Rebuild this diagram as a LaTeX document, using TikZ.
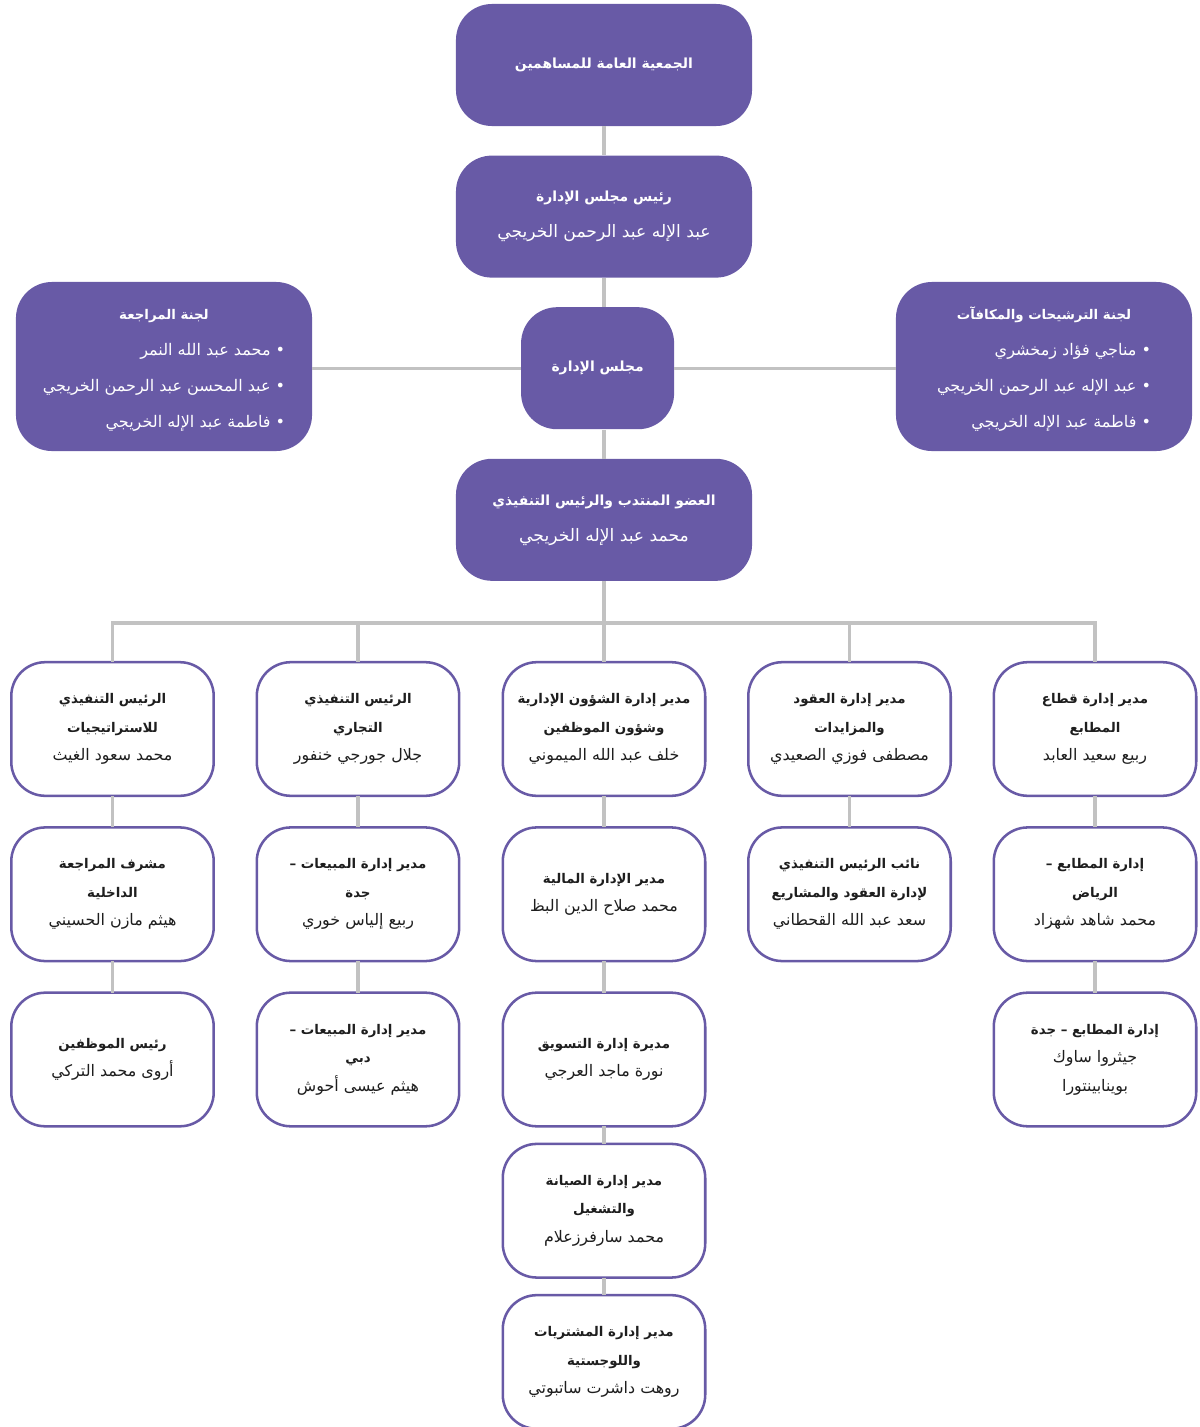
\documentclass[tikz,border=0pt]{standalone}
\usepackage{fontspec}
\newfontfamily\arabicfont[Script=Arabic]{DejaVu Sans}
\TeXXeTstate=1
\usetikzlibrary{positioning}
\definecolor{boardpurple}{HTML}{685AA6}
\definecolor{linegray}{HTML}{C2C2C2}
\definecolor{textdark}{HTML}{1E1E1E}
\newcommand{\arhead}[1]{\beginR\textbf{#1}\endR}
\newcommand{\arname}[1]{\beginR{\namefont #1}\endR}
\newcommand{\namefont}{}
\begin{document}
\begin{tikzpicture}[x=0.025cm, y=-0.025cm,
     node distance = 7.25mm and 5mm,
       topbox/.style = {rectangle, rounded corners=9mm, fill=boardpurple, text=white,
                        minimum width=74mm, minimum height=30.5mm, align=center,
                        font=\arabicfont\fontsize{9.9}{25.6}\selectfont
                             \def\namefont{\fontsize{12.2}{25.6}\selectfont}},
     boardbox/.style = {topbox, minimum width=38.25mm},
       combox/.style = {topbox, minimum height=42.25mm,
                        font=\arabicfont\fontsize{9.5}{25.6}\selectfont
                             \def\namefont{\fontsize{11.4}{25.6}\selectfont}},
         gbox/.style = {rectangle, rounded corners=8.5mm, draw=boardpurple, line width=1.8pt,
                        outer sep=0pt, fill=white, text=textdark, minimum width=50.6mm,
                        minimum height=33.4mm, align=center,
                        font=\arabicfont\fontsize{9.5}{20.3}\selectfont
                             \def\namefont{\fontsize{11.3}{20.3}\selectfont}},
         link/.style = {draw=linegray, line width=2.2pt}
                        ]
\useasboundingbox (0,0) rectangle (1200,1427);
% board level
\node (meeting) [topbox] at (604,65) {\arhead{الجمعية العامة للمساهمين}};
\node (chair) [topbox, below=of meeting] {\arhead{رئيس مجلس الإدارة}\\
      \arname{عبد الإله عبد الرحمن الخريجي}};
\node (board) [boardbox, below=of chair, xshift=-1.6mm] {\arhead{مجلس الإدارة}};
\node (ceo) [topbox, below=of board, xshift=1.6mm] {\arhead{العضو المنتدب والرئيس التنفيذي}\\
      \arname{محمد عبد الإله الخريجي}};
\node (audit) [combox] at (164,366.5) {\begin{tabular}{@{}r@{}}
      \multicolumn{1}{@{}c@{}}{\arhead{لجنة المراجعة}}\\
      \arname{• محمد عبد الله النمر}\\
      \arname{• عبد المحسن عبد الرحمن الخريجي}\\
      \arname{• فاطمة عبد الإله الخريجي}
      \end{tabular}};
\node (nomin) [combox] at (1044,366.5) {\begin{tabular}{@{}r@{}}
      \multicolumn{1}{@{}c@{}}{\arhead{لجنة الترشيحات والمكافآت}}\\
      \arname{• مناجي فؤاد زمخشري}\\
      \arname{• عبد الإله عبد الرحمن الخريجي}\\
      \arname{• فاطمة عبد الإله الخريجي}
      \end{tabular}};
% first row of departments
\node (strat) [gbox] at (112.5,729) {\arhead{الرئيس التنفيذي}\\\arhead{للاستراتيجيات}\\
      \arname{محمد سعود الغيث}};
\node (comm) [gbox] at (358,729) {\arhead{الرئيس التنفيذي}\\\arhead{التجاري}\\
      \arname{جلال جورجي خنفور}};
\node (admin) [gbox] at (604,729) {\arhead{مدير إدارة الشؤون الإدارية}\\\arhead{وشؤون الموظفين}\\
      \arname{خلف عبد الله الميموني}};
\node (contr) [gbox] at (849.5,729) {\arhead{مدير إدارة العقود}\\\arhead{والمزايدات}\\
      \arname{مصطفى فوزي الصعيدي}};
\node (print) [gbox] at (1095,729) {\arhead{مدير إدارة قطاع}\\\arhead{المطابع}\\
      \arname{ربيع سعيد العابد}};
% second row
\node (intaud) [gbox, below=7.9mm of strat] {\arhead{مشرف المراجعة}\\\arhead{الداخلية}\\
      \arname{هيثم مازن الحسيني}};
\node (salesj) [gbox, below=7.9mm of comm] {\arhead{مدير إدارة المبيعات –}\\\arhead{جدة}\\
      \arname{ربيع إلياس خوري}};
\node (fin) [gbox, below=7.9mm of admin] {\arhead{مدير الإدارة المالية}\\
      \arname{محمد صلاح الدين البظ}};
\node (vpc) [gbox, below=7.9mm of contr] {\arhead{نائب الرئيس التنفيذي}\\\arhead{لإدارة العقود والمشاريع}\\
      \arname{سعد عبد الله القحطاني}};
\node (prriy) [gbox, below=7.9mm of print] {\arhead{إدارة المطابع –}\\\arhead{الرياض}\\
      \arname{محمد شاهد شهزاد}};
% third row
\node (staff) [gbox, below=7.9mm of intaud] {\arhead{رئيس الموظفين}\\
      \arname{أروى محمد التركي}};
\node (salesd) [gbox, below=7.9mm of salesj] {\arhead{مدير إدارة المبيعات –}\\\arhead{دبي}\\
      \arname{هيثم عيسى أحوش}};
\node (mkt) [gbox, below=7.9mm of fin] {\arhead{مديرة إدارة التسويق}\\
      \arname{نورة ماجد العرجي}};
\node (prjed) [gbox, below=7.9mm of prriy] {\arhead{إدارة المطابع – جدة}\\\arname{جيثروا ساوك}\\
      \arname{بوينابينتورا}};
% middle column goes on
\node (maint) [gbox, below=4.4mm of mkt] {\arhead{مدير إدارة الصيانة}\\\arhead{والتشغيل}\\
      \arname{محمد سارفرزعلام}};
\node (purch) [gbox, below=4.4mm of maint] {\arhead{مدير إدارة المشتريات}\\\arhead{واللوجستية}\\
      \arname{روهت داشرت ساتبوتي}};
% connectors
\coordinate (bus) at (604,623);
\draw[link] (meeting) -- (chair);
\draw[link] (chair.south) -- (chair.south |- board.north);
\draw[link] (board.west) -- (board.west -| audit.east);
\draw[link] (board.east) -- (board.east -| nomin.west);
\draw[link] (ceo.north) -- (ceo.north |- board.south);
\draw[link] (ceo.south) -- (bus);
\draw[link] (strat.north) |- (bus) -| (print.north);
\foreach \n in {comm, admin, contr}
  \draw[link] (\n.north) -- (\n.north |- bus);
\foreach \a/\b in {strat/intaud, intaud/staff, comm/salesj, salesj/salesd, admin/fin, fin/mkt,
                   mkt/maint, maint/purch, contr/vpc, print/prriy, prriy/prjed}
  \draw[link] (\a) -- (\b);
\end{tikzpicture}
\end{document}
